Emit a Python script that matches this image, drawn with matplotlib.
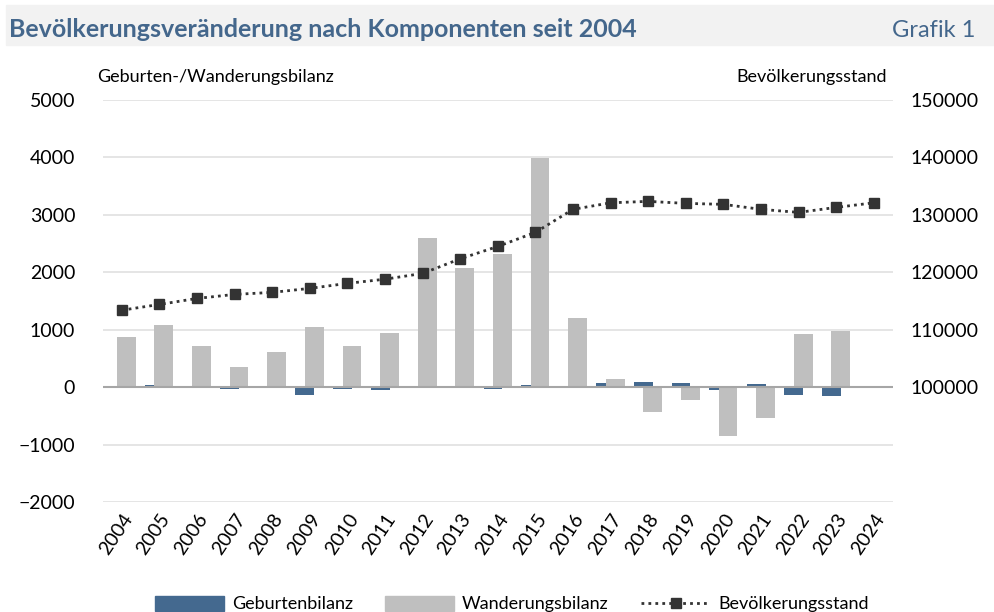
import matplotlib.pyplot as plt
from matplotlib.patches import Patch, Rectangle
from matplotlib.lines import Line2D
import numpy as np

plt.rcParams['font.family'] = ['Lato', 'DejaVu Sans']

# Daten
jahre = [str(j) for j in range(2004, 2025)]
geburtenbilanz = [0, 45, 0, -40, 0, -140, -35, -45, 0, -20, -25, 40,
                  15, 75, 87, 75, -58, 52, -145, -157, 0]
wanderungsbilanz = [870, 1080, 710, 345, 605, 1050, 720, 940, 2595, 2070, 2320, 3985,
                    1205, 150, -440, -225, -845, -530, 920, 975, 0]
bevoelkerungsstand = [113400, 114400, 115450, 116150, 116500, 117200, 118070, 118800,
                      119800, 122350, 124500, 126950, 130960, 132100, 132350, 132000,
                      131830, 130960, 130430, 131300, 132100]

blau = '#44698f'
grau = '#bfbfbf'
dunkel = '#333333'
titelfarbe = '#44678c'

fig = plt.figure(figsize=(9.94, 6.12), dpi=100)
ax = fig.add_axes([0.1036, 0.1797, 0.898 - 0.1036, 0.8366 - 0.1797])
ax2 = ax.twinx()

x = np.arange(len(jahre))
ax.bar(x - 0.13, geburtenbilanz, width=0.5, color=blau, zorder=2)
ax.bar(x + 0.12, wanderungsbilanz, width=0.5, color=grau, zorder=3)

ax2.plot(x, bevoelkerungsstand, color=dunkel, lw=2, ls=(0, (1, 1.5)),
         marker='s', markersize=7.5, zorder=4)

ax.set_xlim(-0.5, len(jahre) - 0.5)
ax.set_ylim(-2000, 5000)
ax.set_yticks(range(-2000, 5001, 1000))
ax2.set_ylim(80000, 150000)
ax2.set_yticks(range(100000, 150001, 10000))

ax.yaxis.grid(True, color='#e0e0e0', lw=1.2, zorder=0)
ax.set_axisbelow(True)
ax.axhline(0, color='#a6a6a6', lw=1.5, zorder=3.5)

for a in (ax, ax2):
    for s in a.spines.values():
        s.set_visible(False)
    a.tick_params(length=0, labelsize=14, colors='black')
ax.tick_params(axis='y', pad=20)
ax2.tick_params(axis='y', pad=13)

ax.set_xticks(x)
ax.set_xticklabels(jahre, rotation=56, ha='right', rotation_mode='anchor')
ax.tick_params(axis='x', pad=6)

fig.text(97 / 994, 1 - 82 / 612, 'Geburten-/Wanderungsbilanz', fontsize=13, ha='left', va='baseline')
fig.text(887 / 994, 1 - 82 / 612, 'Bevölkerungsstand', fontsize=13, ha='right', va='baseline')

# Titelband
fig.patches.append(Rectangle((6 / 994, 1 - 45 / 612), 1, 40 / 612, transform=fig.transFigure,
                             color='#f2f2f2', zorder=0))
fig.text(9 / 994, 1 - 37 / 612, 'Bevölkerungsveränderung nach Komponenten seit 2004',
         fontsize=18, fontweight='bold', color=titelfarbe, ha='left', va='baseline')
fig.text(975 / 994, 1 - 37 / 612, 'Grafik 1', fontsize=17, color=titelfarbe,
         ha='right', va='baseline')

handles = [Patch(color=blau), Patch(color=grau),
           Line2D([], [], color=dunkel, lw=2, ls=(0, (1, 1.5)), marker='s', markersize=7.5)]
fig.legend(handles, ['Geburtenbilanz', 'Wanderungsbilanz', 'Bevölkerungsstand'],
           loc='center', bbox_to_anchor=(0.515, 1 - 604 / 612), ncol=3, frameon=False,
           fontsize=13, handlelength=3.8, handleheight=0.9, columnspacing=1.8,
           handletextpad=0.45)

fig.savefig('out.png', dpi=100)
